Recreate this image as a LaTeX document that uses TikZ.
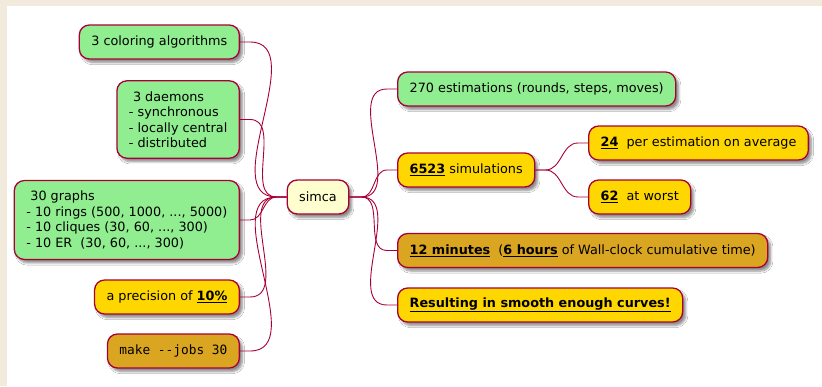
\documentclass[tikz,border=0pt]{standalone}
\usepackage{fontspec}
\setmainfont{DejaVu Sans}
\setmonofont{DejaVu Sans Mono}
\usetikzlibrary{shadows.blur,calc}

\definecolor{framecol}{HTML}{F2EBDD}
\definecolor{edgecol}{HTML}{A80036}
\definecolor{rootfill}{HTML}{FEFECE}
\definecolor{greenfill}{HTML}{90EE90}
\definecolor{goldfill}{HTML}{FFD700}
\definecolor{darkgoldfill}{HTML}{DAA520}

\newcommand{\ubold}[1]{\underline{\textbf{#1}}}

\tikzset{
  box/.style={draw=edgecol, line width=1.3pt, rounded corners=10pt,
    inner xsep=12pt, inner ysep=10.5pt, align=left,
    font=\fontsize{12.8}{15.5}\selectfont,
    blur shadow={shadow xshift=3pt, shadow yshift=-3.5pt,
      shadow blur steps=6, shadow opacity=45}},
  onebox/.style={box, minimum height=34pt, inner ysep=0pt},
  rootbox/.style={fill=rootfill},
  gbox/.style={fill=greenfill},
  ybox/.style={fill=goldfill},
  obox/.style={fill=darkgoldfill},
  conn/.style={draw=edgecol, line width=0.9pt},
}

\begin{document}
\begin{tikzpicture}[x=1pt,y=-1pt]
  \useasboundingbox (0,0) rectangle (822,386);
  \fill[framecol] (0,0) rectangle (822,386);
  \fill[white] (7,6) rectangle (822,386);

  % root
  \node[onebox, rootbox] (root) at (318,197) {simca};

  % left branch
  \node[onebox, gbox, anchor=east] (col) at (240,42) {3 coloring algorithms};
  \node[box, gbox, anchor=east] (dae) at (240,119.5)
    {\ 3 daemons\\- synchronous\\- locally central\\- distributed};
  \node[box, gbox, anchor=east] (gra) at (240,220)
    {\ 30 graphs\\- 10 rings (500, 1000, ..., 5000)\\- 10 cliques (30, 60, ..., 300)\\- 10 ER\ \ (30, 60, ..., 300)};
  \node[onebox, ybox, anchor=east] (pre) at (240,297) {a precision of \ubold{10\%}};
  \node[onebox, obox, anchor=east] (mak) at (240,351) {\ttfamily make {-}{-}jobs 30};

  % right branch
  \node[onebox, gbox, anchor=west] (est) at (397,89) {270 estimations (rounds, steps, moves)};
  \node[onebox, ybox, anchor=west] (sim) at (397,170) {\ubold{6523} simulations};
  \node[onebox, ybox, anchor=west] (avg) at (588,143) {\ubold{24}\ \ per estimation on average};
  \node[onebox, ybox, anchor=west] (wor) at (588,197) {\ubold{62}\ \ at worst};
  \node[onebox, obox, anchor=west] (min) at (397,250.5)
    {\ubold{12 minutes}\ \ (\ubold{6 hours} of Wall-clock cumulative time)};
  \node[onebox, ybox, anchor=west] (res) at (397,305) {\ubold{Resulting in smooth enough curves!}};

  % connectors
  \foreach \c in {col,dae,gra,pre,mak}
    \draw[conn] (root.west) -- ++(-10,0) to[out=180,in=0] ($(\c.east)+(10,0)$) -- (\c.east);
  \foreach \c in {est,sim,min,res}
    \draw[conn] (root.east) -- ++(12,0) to[out=0,in=180] ($(\c.west)+(-10,0)$) -- (\c.west);
  \foreach \c in {avg,wor}
    \draw[conn] (sim.east) -- ++(10,0) to[out=0,in=180] ($(\c.west)+(-10,0)$) -- (\c.west);
\end{tikzpicture}
\end{document}
